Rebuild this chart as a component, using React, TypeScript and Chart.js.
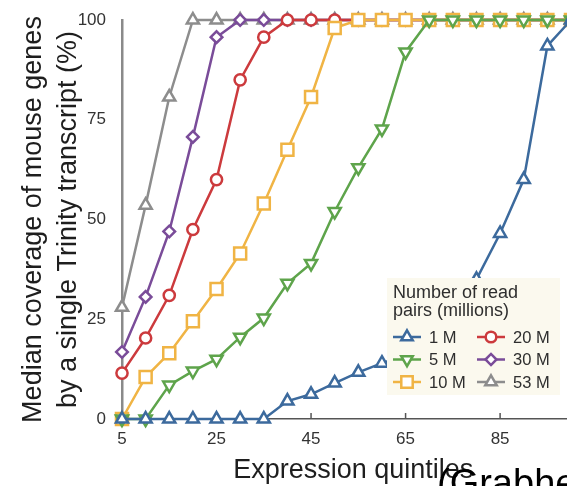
import { useEffect, useRef } from 'react';
import { Chart, registerables } from 'chart.js';

Chart.register(...registerables);

const xValues = [5, 10, 15, 20, 25, 30, 35, 40, 45, 50, 55, 60, 65, 70, 75, 80, 85, 90, 95, 100];
const xTickValues = [5, 25, 45, 65, 85];
const yTickValues = [0, 25, 50, 75, 100];

const series1M = [0, 0, 0, 0, 0, 0, 0, 4.5, 6.2, 9, 11.7, 14, 16, 20, 27, 35, 46.5, 60, 93.5, 100];
const series5M = [0, 0, 8.5, 12, 15, 20.5, 25.3, 34, 39, 52, 63, 72.7, 92, 100, 100, 100, 100, 100, 100, 100];
const series10M = [0, 10.5, 16.5, 24.5, 32.6, 41.5, 54, 67.5, 80.7, 98, 100, 100, 100, 100, 100, 100, 100, 100, 100, 100];
const series20M = [11.5, 20.3, 31, 47.5, 60, 85, 95.7, 100, 100, 100, 100, 100, 100, 100, 100, 100, 100, 100, 100, 100];
const series30M = [16.8, 30.6, 47, 70.7, 95.7, 100, 100, 100, 100, 100, 100, 100, 100, 100, 100, 100, 100, 100, 100, 100];
const series53M = [28, 53.6, 80.7, 100, 100, 100, 100, 100, 100, 100, 100, 100, 100, 100, 100, 100, 100, 100, 100, 100];

const seriesLabels = ['1 M', '5 M', '10 M', '20 M', '30 M', '53 M'];
const seriesValues = [series1M, series5M, series10M, series20M, series30M, series53M];
const seriesColors = ['#3c6a9d', '#5ea44b', '#f0b444', '#cc3a3d', '#7a4c99', '#8d8d8d'];
const seriesShapes = ['triangle', 'triangle', 'rect', 'circle', 'rectRot', 'triangle'];
const seriesRotations = [0, 180, 0, 0, 0, 0];
const seriesRadius = [7, 7, 8.5, 5.6, 5.8, 7];

const legendTitle = ['Number of read', 'pairs (millions)'];
const yTitle = ['Median coverage of mouse genes', 'by a single Trinity transcript (%)'];
const xTitle = '\u2002Expression quintiles';
const overlayText = '(Grabherr';

const FONT = '"Liberation Sans", Arial, Helvetica, sans-serif';

function drawMarker(ctx: CanvasRenderingContext2D, shape: string, rot: number, r: number, x: number, y: number) {
  ctx.beginPath();
  if (shape === 'circle') {
    ctx.arc(x, y, r, 0, Math.PI * 2);
  } else if (shape === 'rect') {
    const s = r * Math.SQRT1_2;
    ctx.rect(x - s, y - s, 2 * s, 2 * s);
  } else if (shape === 'rectRot') {
    ctx.moveTo(x - r, y);
    ctx.lineTo(x, y - r);
    ctx.lineTo(x + r, y);
    ctx.lineTo(x, y + r);
    ctx.closePath();
  } else {
    let rad = (rot * Math.PI) / 180;
    ctx.moveTo(x + Math.sin(rad) * r, y - Math.cos(rad) * r);
    rad += (2 * Math.PI) / 3;
    ctx.lineTo(x + Math.sin(rad) * r, y - Math.cos(rad) * r);
    rad += (2 * Math.PI) / 3;
    ctx.lineTo(x + Math.sin(rad) * r, y - Math.cos(rad) * r);
    ctx.closePath();
  }
  ctx.fillStyle = '#ffffff';
  ctx.fill();
  ctx.stroke();
}

const innerTicksPlugin = {
  id: 'innerTicks',
  beforeDatasetsDraw(chart: any) {
    const ctx = chart.ctx;
    const xs = chart.scales.x;
    const bottom = chart.chartArea.bottom;
    ctx.save();
    ctx.strokeStyle = '#555555';
    ctx.lineWidth = 1.5;
    xTickValues.forEach((v) => {
      const px = xs.getPixelForValue(v);
      ctx.beginPath();
      ctx.moveTo(px, bottom);
      ctx.lineTo(px, bottom - 6);
      ctx.stroke();
    });
    ctx.restore();
  },
};

const legendPlugin = {
  id: 'customLegend',
  afterDraw(chart: any) {
    const ctx = chart.ctx;
    ctx.save();
    ctx.fillStyle = '#fbf9ee';
    ctx.fillRect(387, 278, 173, 117);
    ctx.fillStyle = '#2e2e2e';
    ctx.font = `18px ${FONT}`;
    ctx.textAlign = 'left';
    ctx.textBaseline = 'alphabetic';
    ctx.fillText(legendTitle[0], 393, 298);
    ctx.fillText(legendTitle[1], 393, 316);
    ctx.font = `16.5px ${FONT}`;
    ctx.textBaseline = 'middle';
    seriesLabels.forEach((label, i) => {
      const col = Math.floor(i / 3);
      const row = i % 3;
      const cx = 407 + col * 84;
      const cy = 337 + row * 22.5;
      ctx.strokeStyle = seriesColors[i];
      ctx.lineWidth = 2.5;
      ctx.beginPath();
      ctx.moveTo(cx - 14, cy);
      ctx.lineTo(cx + 14, cy);
      ctx.stroke();
      drawMarker(ctx, seriesShapes[i], seriesRotations[i], seriesRadius[i] * 0.95, cx, cy);
      ctx.fillStyle = '#2e2e2e';
      ctx.fillText(label, cx + 22, cy + 1);
    });
    ctx.fillStyle = '#000000';
    ctx.font = `38px ${FONT}`;
    ctx.textBaseline = 'alphabetic';
    ctx.fillText(overlayText, 437, 496);
    ctx.restore();
  },
};

export default function App() {
  const canvasRef = useRef<HTMLCanvasElement | null>(null);

  useEffect(() => {
    if (!canvasRef.current) return;
    const chart = new Chart(canvasRef.current, {
      type: 'line',
      data: {
        datasets: seriesLabels.map((label, i) => ({
          label,
          data: xValues.map((x, j) => ({ x, y: seriesValues[i][j] })),
          borderColor: seriesColors[i],
          backgroundColor: '#ffffff',
          borderWidth: 2.5,
          pointStyle: seriesShapes[i] as any,
          pointRotation: seriesRotations[i],
          pointRadius: seriesRadius[i],
          pointBorderWidth: 2.5,
          pointBackgroundColor: '#ffffff',
          pointBorderColor: seriesColors[i],
          tension: 0,
          clip: false as any,
        })),
      },
      options: {
        animation: false,
        responsive: false,
        devicePixelRatio: 1,
        layout: { padding: { left: 0, right: 29, top: 20, bottom: 0 } },
        plugins: {
          legend: { display: false },
          tooltip: { enabled: false },
        },
        scales: {
          x: {
            type: 'linear',
            min: 5,
            max: 100,
            afterBuildTicks: (scale: any) => {
              scale.ticks = xTickValues.map((v) => ({ value: v }));
            },
            afterFit: (scale: any) => {
              scale.height = 67;
              scale.paddingLeft = 0;
              scale.paddingRight = 0;
            },
            grid: { display: false, drawTicks: false, tickLength: 0 },
            border: { display: true, color: '#555555', width: 1.5 },
            ticks: {
              autoSkip: false,
              maxRotation: 0,
              padding: 10,
              color: '#333333',
              font: { family: FONT, size: 17 },
              callback: (v: any) => String(v),
            },
            title: {
              display: true,
              text: xTitle,
              color: '#1e1e1e',
              font: { family: FONT, size: 27, lineHeight: 1.2 },
              padding: { top: 0, bottom: -1 },
            },
          },
          y: {
            type: 'linear',
            min: 0,
            max: 100,
            afterBuildTicks: (scale: any) => {
              scale.ticks = yTickValues.map((v) => ({ value: v }));
            },
            afterFit: (scale: any) => {
              scale.width = 122;
              scale.paddingTop = 0;
              scale.paddingBottom = 0;
            },
            grid: { display: false, drawTicks: false, tickLength: 0 },
            border: { display: true, color: '#8a8a8a', width: 2.5 },
            ticks: {
              padding: 16,
              color: '#333333',
              font: { family: FONT, size: 17 },
            },
            title: {
              display: true,
              text: yTitle,
              color: '#1e1e1e',
              font: { family: FONT, size: 27, lineHeight: 1.3 },
              padding: { top: 16, bottom: 0 },
            },
          },
        },
      },
      plugins: [innerTicksPlugin, legendPlugin],
    });
    return () => chart.destroy();
  }, []);

  return (
    <div
      style={{
        position: 'fixed',
        left: 0,
        top: 0,
        width: 567,
        height: 486,
        overflow: 'hidden',
        background: '#ffffff',
      }}
    >
      <canvas ref={canvasRef} width={600} height={486} style={{ width: 600, height: 486, display: 'block' }} />
    </div>
  );
}
